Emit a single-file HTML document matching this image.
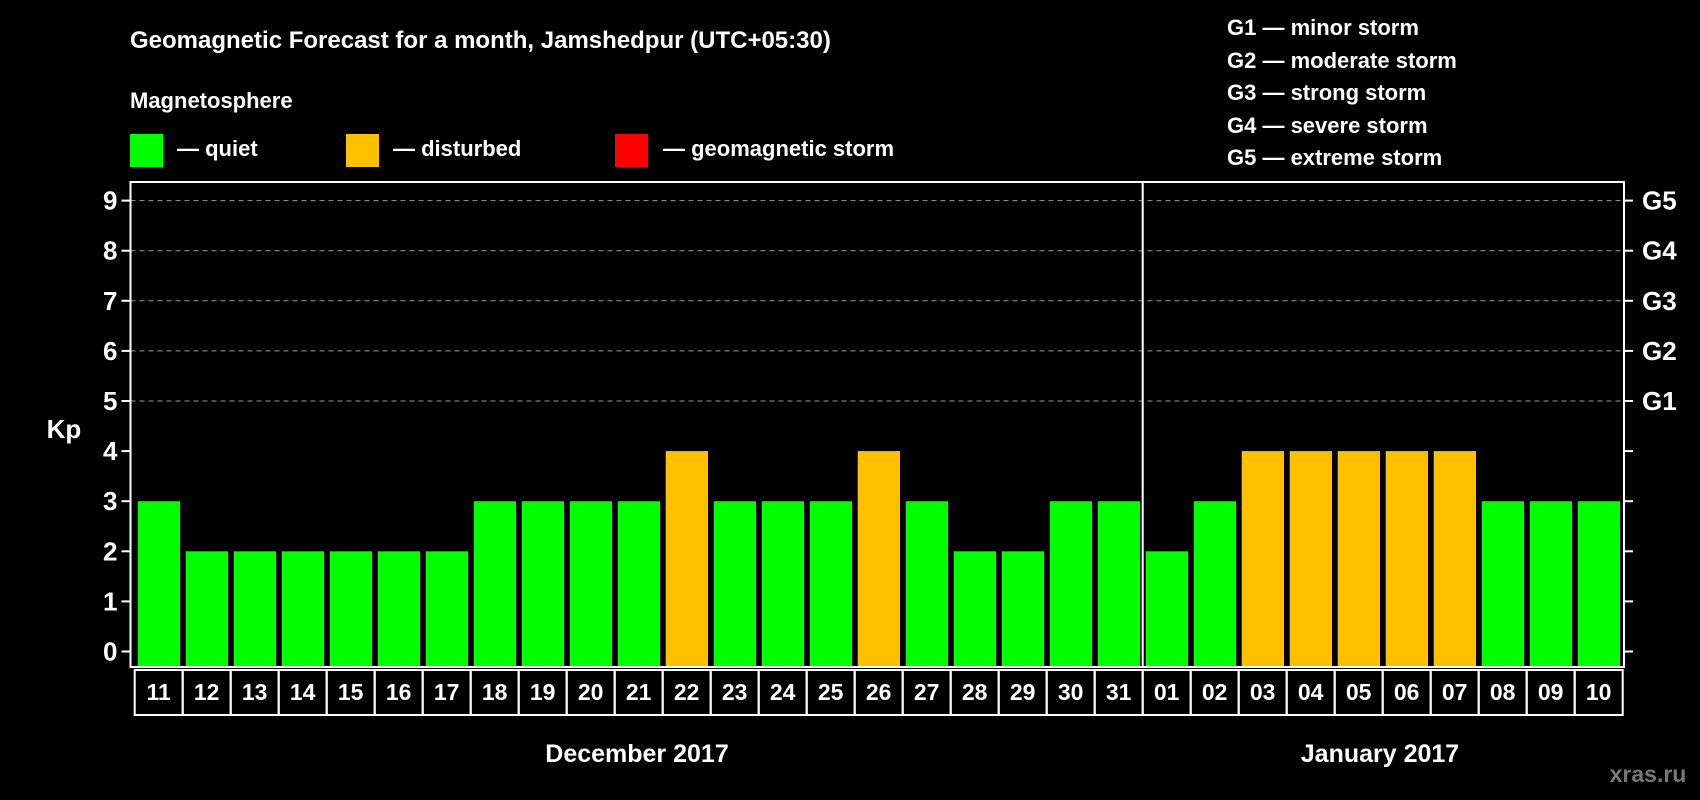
<!DOCTYPE html>
<html><head><meta charset="utf-8"><style>
body{margin:0;background:#000;width:1700px;height:800px;overflow:hidden}
svg{display:block}
text{font-family:"Liberation Sans",sans-serif;font-weight:bold;fill:#fff}
</style></head><body>
<svg id="c" width="1700" height="800">
<text x="130" y="48" font-size="24">Geomagnetic Forecast for a month, Jamshedpur (UTC+05:30)</text>
<text x="130" y="108" font-size="22">Magnetosphere</text>
<rect x="130" y="134" width="33" height="33" fill="#00ff00"/>
<text x="177" y="156" font-size="22">— quiet</text>
<rect x="346" y="134" width="33" height="33" fill="#ffc000"/>
<text x="393" y="156" font-size="22">— disturbed</text>
<rect x="615" y="134" width="33" height="33" fill="#ff0000"/>
<text x="663" y="156" font-size="22">— geomagnetic storm</text>
<g font-size="22">
<text x="1227" y="35">G1 — minor storm</text>
<text x="1227" y="68">G2 — moderate storm</text>
<text x="1227" y="100">G3 — strong storm</text>
<text x="1227" y="133">G4 — severe storm</text>
<text x="1227" y="165">G5 — extreme storm</text>
</g>
<text x="64" y="438" font-size="26" text-anchor="middle">Kp</text>
<text x="637" y="762" font-size="25" text-anchor="middle">December 2017</text>
<text x="1380" y="762" font-size="25" text-anchor="middle">January 2017</text>
<text x="1648" y="782" font-size="23" text-anchor="middle" style="fill:#777">xras.ru</text>
<g id="plot"></g>
</svg>
<script>
const days=["11","12","13","14","15","16","17","18","19","20","21","22","23","24","25","26","27","28","29","30","31","01","02","03","04","05","06","07","08","09","10"];
const kp=[3,2,2,2,2,2,2,3,3,3,3,4,3,3,3,4,3,2,2,3,3,2,3,4,4,4,4,4,3,3,3];
const yTicks=[0,1,2,3,4,5,6,7,8,9];
const gLabels=["G1","G2","G3","G4","G5"];
const NS="http://www.w3.org/2000/svg";
const g=document.getElementById('plot');
const L=130.5,R=1624,T=182,B=667,y0=651.5,unit=50.1,x0=137.7,pitch=48,bw=42.3,cellL=134.7;
const y=v=>y0-v*unit;
const x=i=>x0+i*pitch;
function mk(t,a){const e=document.createElementNS(NS,t);for(const k in a)e.setAttribute(k,a[k]);g.appendChild(e);return e;}
yTicks.forEach(v=>{
 if(v>=5){const l=mk('line',{x1:L,x2:R,y1:y(v),y2:y(v),stroke:'#999','stroke-dasharray':'5,4','stroke-width':1});
 
 }
 const t1=mk('line',{x1:L-9,x2:L,y1:y(v),y2:y(v),stroke:'#fff','stroke-width':2});
 
 
 const t2=mk('line',{x1:R,x2:R+9,y1:y(v),y2:y(v),stroke:'#fff','stroke-width':2});
 
 
 const tx=mk('text',{x:L-13,y:y(v)+9,'font-size':26,'text-anchor':'end'});tx.textContent=v;
 
 
});
gLabels.forEach((s,i)=>{const tx=mk('text',{x:R+18,y:y(5+i)+9,'font-size':26});tx.textContent=s;
 
 });
kp.forEach((v,i)=>{
 const col=v>=5?'#ff0000':(v>=4?'#ffc000':'#00ff00');
 const r=mk('rect',{x:x(i),y:y(v),width:bw,height:B-y(v),fill:col});
 
 
 const c=mk('rect',{x:cellL+i*pitch,y:670,width:pitch,height:45,fill:'none',stroke:'#fff','stroke-width':2});
 
 
 const tx=mk('text',{x:cellL+i*pitch+pitch/2,y:700,'font-size':23,'text-anchor':'middle'});tx.textContent=days[i];
 
 
});
const fr=mk('rect',{x:L,y:T,width:R-L,height:B-T,fill:'none',stroke:'#fff','stroke-width':2});


const di=days.indexOf("01");
const dv=mk('line',{x1:cellL+di*pitch,x2:cellL+di*pitch,y1:T,y2:B,stroke:'#fff','stroke-width':2});


</script>
</body></html>
